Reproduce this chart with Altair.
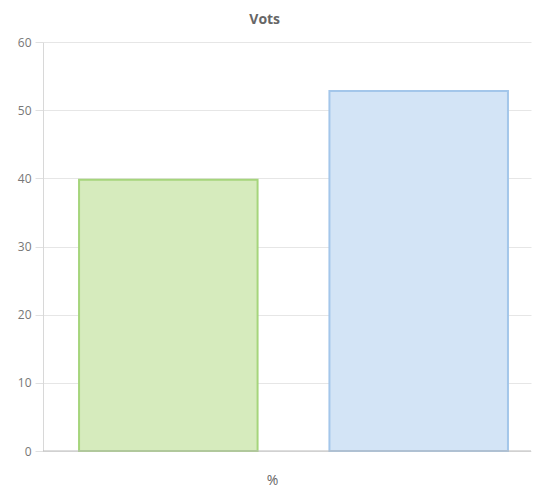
import altair as alt
import pandas as pd

series = ["A", "B"]
values = [39.8, 52.8]
fills = ["#d6ebbd", "#d3e4f6"]
strokes = ["#a6d57c", "#a3c6ea"]

df = pd.DataFrame({"series": series, "value": values})

chart = alt.Chart(df).mark_bar(strokeWidth=2).encode(
    x=alt.X("series:N", title="%",
            scale=alt.Scale(paddingInner=0.287, paddingOuter=0.118, align=0.61),
            axis=alt.Axis(labels=False, ticks=False, domain=False, grid=False,
                          titleFont="Open Sans", titleFontSize=14, titleColor="#666",
                          titleFontWeight="normal", titlePadding=22,
                          titleX=229, titleAlign="center")),
    y=alt.Y("value:Q", title=None,
            scale=alt.Scale(domain=[0, 60], nice=False),
            axis=alt.Axis(values=[0, 10, 20, 30, 40, 50, 60], tickSize=8, tickColor="#e0e0e0",
                          gridColor="#e6e6e6", domainColor="#d8d8d8",
                          labelFont="Open Sans", labelFontSize=12, labelColor="#777",
                          labelPadding=4)),
    fill=alt.Fill("series:N", scale=alt.Scale(domain=series, range=fills), legend=None),
    stroke=alt.Stroke("series:N", scale=alt.Scale(domain=series, range=strokes), legend=None),
)

baseline = alt.Chart(pd.DataFrame({"y": [0]})).mark_rule(color="#bbbbbb", strokeWidth=1).encode(y="y:Q")

final = alt.layer(chart, baseline).properties(
    width=488, height=409,
    title=alt.TitleParams("Vots", font="Open Sans", fontSize=14, fontWeight="bold",
                          color="#666", anchor="start", dx=232, offset=9),
    autosize=alt.AutoSizeParams(type="none"),
    padding={"left": 43, "top": 42, "right": 3, "bottom": 38},
).configure_view(stroke=None)

final.save("out.html", embed_options={"renderer": "svg", "actions": False})
